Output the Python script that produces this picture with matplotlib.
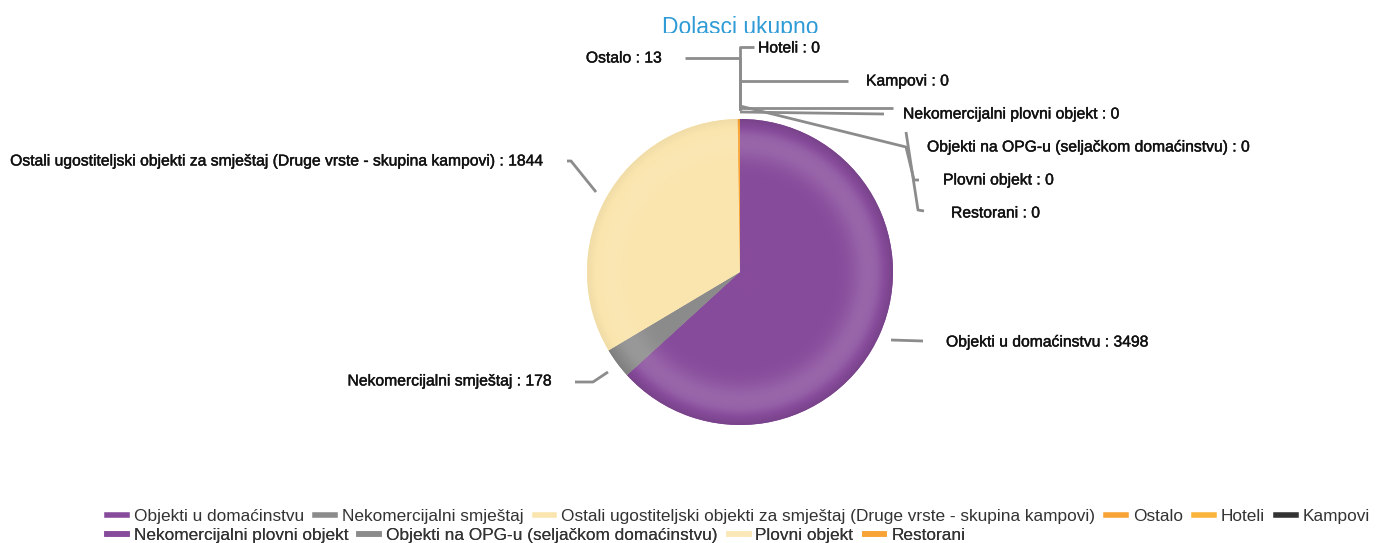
import numpy as np
import matplotlib
matplotlib.use('Agg')
import matplotlib.pyplot as plt
import matplotlib.patheffects as pe
from matplotlib.lines import Line2D
from matplotlib.patches import Rectangle

W, H = 1376, 543  # figure size in pixels

# data
categories = ['Objekti u domaćinstvu', 'Nekomercijalni smještaj',
              'Ostali ugostiteljski objekti za smještaj (Druge vrste - skupina kampovi)',
              'Ostalo', 'Hoteli', 'Kampovi', 'Nekomercijalni plovni objekt',
              'Objekti na OPG-u (seljačkom domaćinstvu)', 'Plovni objekt', 'Restorani']
values = [3498, 178, 1844, 13, 0, 0, 0, 0, 0, 0]
colors = ['#874b9b', '#8b8b8b', '#fae5ae', '#f7a335', '#f9b43c', '#333333',
          '#874b9b', '#8b8b8b', '#fbe8b8', '#f7a335']
shade = [1.0, 0.8, 0.35, 0.5, 0, 0, 0, 0, 0, 0]  # strength of radial shading per slice
title = 'Dolasci ukupno'

# label layout (pixel coords, y down): text position, alignment, connector elbows
label_layout = {
    'Objekti u domaćinstvu': dict(xy=(946, 342), ha='left', path=[(891, 340), (923, 341)]),
    'Nekomercijalni smještaj': dict(xy=(552, 381), ha='right', path=[(608, 372), (593, 382), (575, 382)]),
    'Ostali ugostiteljski objekti za smještaj (Druge vrste - skupina kampovi)':
        dict(xy=(545, 161), ha='right', path=[(596, 192), (571, 161), (567, 161)]),
    'Ostalo': dict(xy=(662, 58), ha='right', path=[(740, 110), (740, 58), (685, 58)]),
    'Hoteli': dict(xy=(758, 48), ha='left', path=[(740, 110), (740, 47), (754, 47)]),
    'Kampovi': dict(xy=(866, 81), ha='left', path=[(740, 110), (740, 81), (848, 81)]),
    'Nekomercijalni plovni objekt': dict(xy=(903, 114), ha='left', path=[(740, 108), (893, 108)]),
    'Objekti na OPG-u (seljačkom domaćinstvu)': dict(xy=(927, 147), ha='left',
                                                    path=[(740, 112), (884, 114)]),
    'Plovni objekt': dict(xy=(943, 180), ha='left', path=[(740, 106), (906, 147), (914, 180), (919, 180)]),
    'Restorani': dict(xy=(951, 213), ha='left', path=[(906, 132), (918, 210), (924, 211)]),
}

cx, cy, r = 740, 272, 153

fig = plt.figure(figsize=(W / 100, H / 100), dpi=100)
ax = fig.add_axes([0, 0, 1, 1])

wedges, _ = ax.pie(values, colors=colors, startangle=90, counterclock=False,
                   center=(cx, H - cy), radius=r, wedgeprops=dict(linewidth=0))

# radial shading like the original (lighter ring near the rim, darker edge)
gx, gy = np.meshgrid(np.linspace(cx - r, cx + r, 400), np.linspace(H - cy - r, H - cy + r, 400))
rho = np.hypot(gx - cx, gy - (H - cy)) / r
k0 = 0.15 * np.exp(-((rho - 0.84) / 0.11) ** 2) - 0.12 * np.clip((rho - 0.9) / 0.1, 0, 1)
for w, c, v, s in zip(wedges, colors, values, shade):
    if v == 0 or s == 0:
        continue
    k = (k0 * s)[..., None]
    base = np.array(matplotlib.colors.to_rgb(c))
    img = np.where(k > 0, base + (1 - base) * k, base * (1 + k))
    im = ax.imshow(np.clip(img, 0, 1), extent=(cx - r, cx + r, H - cy - r, H - cy + r),
                   origin='lower', zorder=w.get_zorder() + 0.1, interpolation='bilinear')
    im.set_clip_path(w)

# data labels with connectors
for name, v in zip(categories, values):
    lay = label_layout[name]
    px = [p[0] for p in lay['path']]
    py = [H - p[1] for p in lay['path']]
    ax.plot(px, py, color='#8c8c8c', lw=2, solid_capstyle='butt', zorder=1)
    t = ax.text(lay['xy'][0], H - lay['xy'][1], f'{name} : {v}', ha=lay['ha'], va='center',
                fontsize=11.3, color='#111111', family='Liberation Sans', zorder=4)
    t.set_path_effects([pe.withStroke(linewidth=0.3, foreground='#111111')])

ax.text(740, H - 34, title, ha='center', va='baseline', fontsize=16.5, color='#2e9bd6',
        family='Liberation Sans', zorder=2)
# the original title is cut at its bottom
ax.add_patch(Rectangle((650, H - 42), 180, 9, facecolor='white', edgecolor='none', zorder=3))

# legend in two rows
rows = [range(0, 6), range(6, 10)]
row_y = [516, 535]
for idx, yy in zip(rows, row_y):
    handles = [Line2D([], [], color=colors[i], lw=4) for i in idx]
    leg = ax.legend(handles, [categories[i] for i in idx], ncol=len(idx), loc='center left',
                    bbox_to_anchor=(107 / W, 1 - yy / H), frameon=False, borderpad=0,
                    borderaxespad=0, handlelength=1.15, handletextpad=0.4, columnspacing=0.65,
                    prop=dict(family='Liberation Sans', size=12.4))
    for t in leg.get_texts():
        t.set_color('#333333')
    ax.add_artist(leg)

ax.set_xlim(0, W)
ax.set_ylim(0, H)
ax.set_aspect('auto')
ax.axis('off')

fig.savefig('out.png', dpi=100)
